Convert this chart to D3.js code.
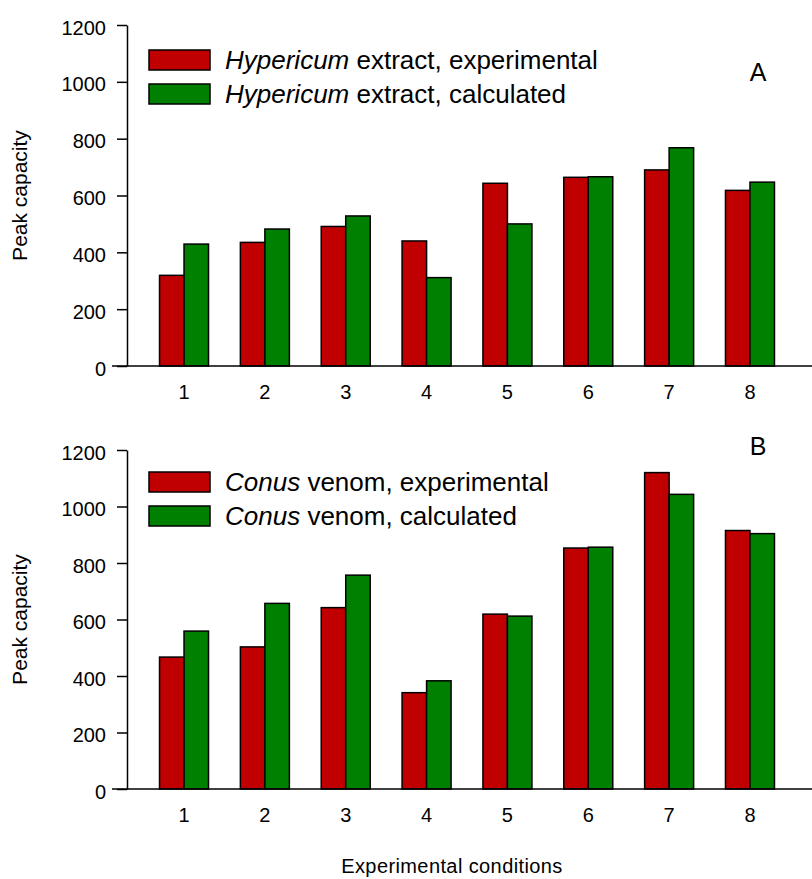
<!DOCTYPE html>
<html>
<head>
<meta charset="utf-8">
<script src="https://cdn.jsdelivr.net/npm/d3@7"></script>
<style>
  body { margin: 0; background: #fff; }
  svg { display: block; font-family: "Liberation Sans", Arial, sans-serif; }
</style>
</head>
<body>
<div id="chart"></div>
<script>
// experimental conditions on the x axis
var conditions = ["1", "2", "3", "4", "5", "6", "7", "8"];
var yTicks = [0, 200, 400, 600, 800, 1000, 1200];

// panel A - Hypericum extract
var hypericumExp  = [319, 435, 491, 440, 643, 664, 690, 618];
var hypericumCalc = [429, 482, 528, 311, 500, 666, 768, 647];

// panel B - Conus venom
var conusExp  = [467, 503, 642, 341, 619, 853, 1120, 915];
var conusCalc = [559, 657, 757, 383, 612, 856, 1043, 904];

var seriesKeys = ["exp", "calc"];
var colors = { exp: "#c00000", calc: "#008000" };

var width = 812, height = 879;

var svg = d3.select("#chart")
  .append("svg")
  .attr("width", width)
  .attr("height", height);

// same x layout for both panels
var x = d3.scaleBand()
  .domain(conditions)
  .range([143.6, 790.4])
  .paddingInner(0.394)
  .paddingOuter(0.197);

var xInner = d3.scaleBand()
  .domain(seriesKeys)
  .range([0, x.bandwidth()]);

function drawPanel(opts) {
  var y = d3.scaleLinear()
    .domain([0, 1200])
    .range([opts.bottom, opts.top]);

  var rows = conditions.map(function(c, i) {
    return { cond: c, exp: opts.exp[i], calc: opts.calc[i] };
  });

  var g = svg.append("g");

  // bars
  g.append("g")
    .selectAll("g")
    .data(rows)
    .enter().append("g")
    .attr("transform", function(d) { return "translate(" + x(d.cond) + ",0)"; })
    .selectAll("rect")
    .data(function(d) { return seriesKeys.map(function(k) { return { key: k, value: d[k] }; }); })
    .enter().append("rect")
    .attr("x", function(d) { return xInner(d.key); })
    .attr("y", function(d) { return y(d.value); })
    .attr("width", xInner.bandwidth())
    .attr("height", function(d) { return y(0) - y(d.value); })
    .attr("fill", function(d) { return colors[d.key]; })
    .attr("stroke", "#000")
    .attr("stroke-width", 1.5);

  // y axis
  var yAxis = g.append("g")
    .attr("transform", "translate(127,0)")
    .call(d3.axisLeft(y).tickValues(yTicks).tickFormat(d3.format("d"))
      .tickSize(10).tickSizeOuter(0).tickPadding(11));
  yAxis.select(".domain").attr("stroke-width", 1.5);
  yAxis.selectAll(".tick line").attr("stroke-width", 1.5);
  yAxis.selectAll("text")
    .attr("dy", "0.45em")
    .attr("font-size", 20)
    .attr("font-family", "Liberation Sans, Arial, sans-serif")
    .attr("fill", "#000");

  // x axis - labels only, the baseline is drawn on its own
  var xAxis = g.append("g")
    .attr("transform", "translate(0," + y(0) + ")")
    .call(d3.axisBottom(x).tickSize(0).tickPadding(19));
  xAxis.select(".domain").remove();
  xAxis.selectAll("text")
    .attr("font-size", 20)
    .attr("font-family", "Liberation Sans, Arial, sans-serif")
    .attr("fill", "#000");

  g.append("line")
    .attr("x1", 112).attr("x2", 812)
    .attr("y1", y(0)).attr("y2", y(0))
    .attr("stroke", "#000")
    .attr("stroke-width", 1.5);

  // y axis title
  g.append("text")
    .attr("text-anchor", "middle")
    .attr("transform", "translate(27," + ((y(0) + y(1200)) / 2) + ")rotate(-90)")
    .attr("font-size", 21)
    .text("Peak capacity");

  // legend
  var legend = g.append("g");
  seriesKeys.forEach(function(k, i) {
    var ly = opts.legendTop + i * 34;
    legend.append("rect")
      .attr("x", 149).attr("y", ly)
      .attr("width", 61).attr("height", 20)
      .attr("fill", colors[k])
      .attr("stroke", "#000")
      .attr("stroke-width", 1.5);
    var t = legend.append("text")
      .attr("x", 225)
      .attr("y", ly + 19)
      .attr("font-size", 26);
    t.append("tspan").attr("font-style", "italic").text(opts.name);
    t.append("tspan").text(" " + opts.rest + (k === "exp" ? "experimental" : "calculated"));
  });

  // panel letter
  g.append("text")
    .attr("x", 758)
    .attr("y", opts.letterY)
    .attr("text-anchor", "middle")
    .attr("font-size", 25)
    .text(opts.letter);
}

drawPanel({
  top: 25, bottom: 366,
  exp: hypericumExp, calc: hypericumCalc,
  name: "Hypericum", rest: "extract, ",
  legendTop: 50, letter: "A", letterY: 81
});

drawPanel({
  top: 450, bottom: 789,
  exp: conusExp, calc: conusCalc,
  name: "Conus", rest: "venom, ",
  legendTop: 472, letter: "B", letterY: 455
});

// shared x axis title
svg.append("text")
  .attr("x", 452)
  .attr("y", 873)
  .attr("text-anchor", "middle")
  .attr("font-size", 20)
  .attr("letter-spacing", 0.4)
  .text("Experimental conditions");
</script>
</body>
</html>
